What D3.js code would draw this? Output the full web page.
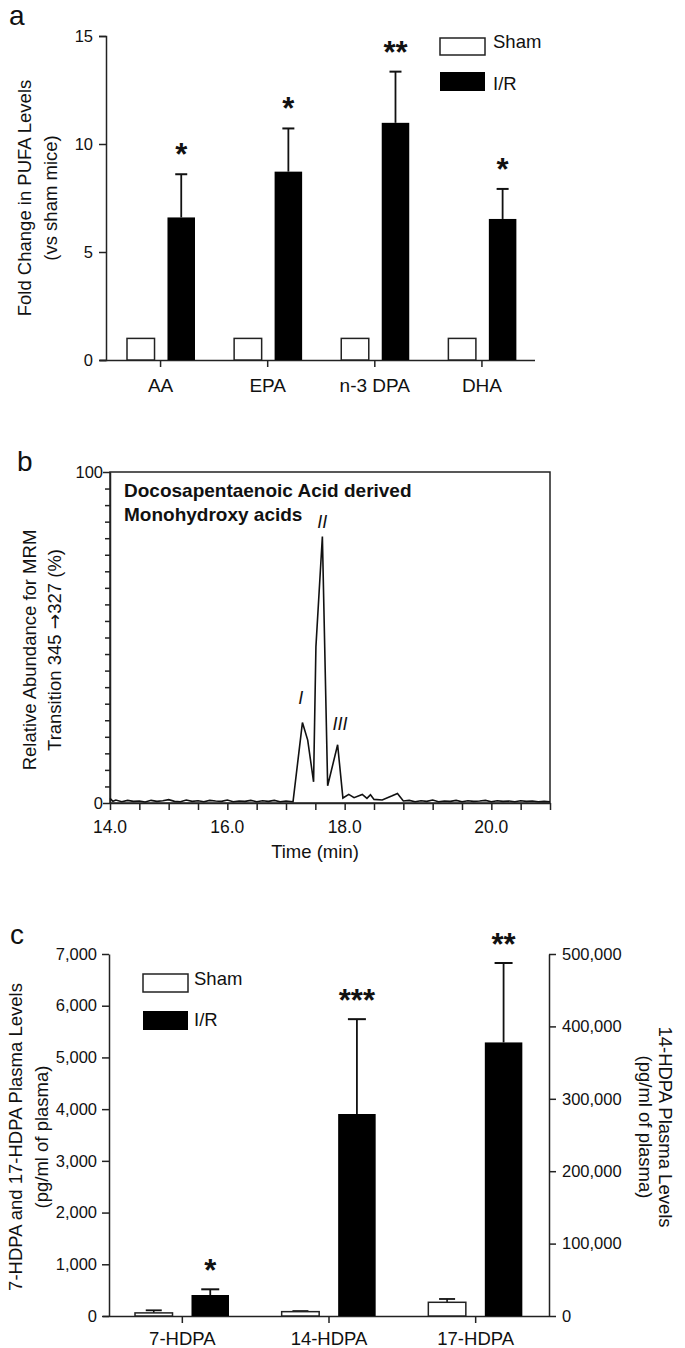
<!DOCTYPE html>
<html>
<head>
<meta charset="utf-8">
<script src="https://cdn.jsdelivr.net/npm/d3@7"></script>
<style>
  body { margin: 0; background: #fff; }
  svg text { font-family: "Liberation Sans", Arial, sans-serif; fill: #111; }
  .domain, .tick line { stroke: #222; stroke-width: 1.5; }
</style>
</head>
<body>
<svg id="fig" width="685" height="1348"></svg>
<script>
// ---- panel a data ----
const pufaCats = ['AA', 'EPA', 'n-3 DPA', 'DHA'];
const pufaSham = [1, 1, 1, 1];
const pufaIR = [6.6, 8.72, 10.98, 6.53];
const pufaIRErr = [2.0, 2.0, 2.37, 1.39];
const pufaStars = ['*', '*', '**', '*'];
const pufaTicks = [0, 5, 10, 15];

// ---- panel b data (chromatogram, min vs %) ----
const traceTime = [14.0, 14.05, 14.1, 14.2, 14.3, 14.4, 14.5, 14.6, 14.7, 14.8, 14.9, 15.0, 15.1, 15.2, 15.3,
  15.4, 15.5, 15.6, 15.7, 15.8, 15.9, 16.0, 16.1, 16.2, 16.3, 16.4, 16.5, 16.6, 16.7, 16.8, 16.9, 17.0, 17.12,
  17.28, 17.37, 17.47, 17.51, 17.62, 17.71, 17.88, 17.97, 18.07, 18.16, 18.3, 18.38, 18.44, 18.5, 18.64, 18.8,
  18.9, 19.0, 19.1, 19.2, 19.3, 19.4, 19.5, 19.6, 19.7, 19.8, 19.9, 20.0, 20.1, 20.2, 20.3, 20.4, 20.5, 20.6,
  20.7, 20.8, 20.9, 21.0, 21.1, 21.2, 21.3, 21.4, 21.5];
const traceValue = [1.4, 0.5, 0.9, 0.4, 0.8, 0.5, 0.6, 0.3, 0.8, 0.5, 0.7, 1.0, 0.5, 0.4, 0.9,
  0.5, 0.7, 0.4, 0.8, 0.6, 0.5, 0.9, 0.4, 0.6, 0.5, 0.8, 0.4, 0.7, 0.5, 0.8, 0.4, 0.6, 0.4,
  24.3, 19.0, 6.4, 47.2, 80.5, 5.2, 17.6, 1.5, 2.6, 1.6, 2.6, 1.4, 2.5, 1.1, 0.9, 2.1,
  2.9, 0.6, 0.8, 0.4, 0.7, 0.5, 0.9, 0.4, 0.6, 0.5, 0.8, 0.4, 0.7, 0.5, 0.6, 0.8,
  0.4, 0.7, 0.5, 0.6, 0.4, 0.7, 0.5, 0.6, 0.4, 0.5, 0.4];
const peakNames = ['I', 'II', 'III'];
const peakTime = [17.25, 17.62, 17.92];
const peakLabelValue = [30, 83, 22];
const timeTicks = d3.range(14, 21.51, 0.5);
const timeLabelAt = [14, 16, 18, 20.5];
const timeLabelText = ['14.0', '16.0', '18.0', '20.0'];

// ---- panel c data (pg/ml) ----
const hdpaCats = ['7-HDPA', '14-HDPA', '17-HDPA'];
const hdpaAxis = ['left', 'right', 'left'];   // 14-HDPA is read on the right axis
const hdpaSham = [60, 6000, 265];
const hdpaShamErr = [50, 800, 64];
const hdpaIR = [406, 279000, 5290];
const hdpaIRErr = [110, 131000, 1536];
const hdpaStars = ['*', '***', '**'];
const leftTicks = [0, 1000, 2000, 3000, 4000, 5000, 6000, 7000];
const rightTicks = [0, 100000, 200000, 300000, 400000, 500000];

const svg = d3.select('#fig');

const panelLetter = (x, y, t) =>
  svg.append('text').attr('x', x).attr('y', y).style('font-size', '28px').text(t);

// ============ panel a ============
const a = { left: 106, right: 535, top: 36, bottom: 360 };
const ay = d3.scaleLinear().domain([0, 15]).range([a.bottom, a.top]);
const ax = d3.scaleBand().domain(pufaCats).range([a.left + 1, a.right + 0.5]);
const axSub = d3.scaleBand().domain(['Sham', 'I/R']).range([20, 88]).paddingInner(0.32);

panelLetter(9, 25, 'a');

const gA = svg.append('g');
gA.append('g').attr('transform', `translate(${a.left},0)`)
  .call(d3.axisLeft(ay).tickValues(pufaTicks).tickSize(7).tickPadding(6))
  .call(g => g.selectAll('text').style('font-size', '16.5px'));
gA.append('g').attr('transform', `translate(0,${a.bottom})`)
  .call(d3.axisBottom(ax).tickSize(7).tickSizeOuter(0).tickPadding(12))
  .call(g => g.select('.domain').attr('d', `M${a.left - 6},0.5H${a.right}`))
  .call(g => g.selectAll('text').style('font-size', '19px'));

pufaCats.forEach((c, i) => {
  const x0 = ax(c);
  gA.append('rect').attr('x', x0 + axSub('Sham')).attr('y', ay(pufaSham[i]))
    .attr('width', axSub.bandwidth()).attr('height', ay(0) - ay(pufaSham[i]))
    .attr('fill', '#fff').attr('stroke', '#222').attr('stroke-width', 1.5);
  const cx = x0 + axSub('I/R') + axSub.bandwidth() / 2;
  const top = ay(pufaIR[i] + pufaIRErr[i]);
  gA.append('line').attr('x1', cx).attr('x2', cx).attr('y1', ay(pufaIR[i])).attr('y2', top)
    .attr('stroke', '#111').attr('stroke-width', 1.8);
  gA.append('line').attr('x1', cx - 6).attr('x2', cx + 6).attr('y1', top).attr('y2', top)
    .attr('stroke', '#111').attr('stroke-width', 2);
  gA.append('rect').attr('x', x0 + axSub('I/R')).attr('y', ay(pufaIR[i]))
    .attr('width', axSub.bandwidth()).attr('height', ay(0) - ay(pufaIR[i]))
    .attr('fill', '#000');
  gA.append('text').attr('x', cx).attr('y', top - 9).attr('text-anchor', 'middle')
    .style('font-size', '31px').style('font-weight', 'bold').text(pufaStars[i]);
});

gA.append('text').attr('transform', 'rotate(-90)').attr('x', -(a.top + a.bottom) / 2).attr('y', 31)
  .attr('text-anchor', 'middle').style('font-size', '18.5px').text('Fold Change in PUFA Levels');
gA.append('text').attr('transform', 'rotate(-90)').attr('x', -(a.top + a.bottom) / 2).attr('y', 57)
  .attr('text-anchor', 'middle').style('font-size', '18.5px').text('(vs sham mice)');

// legend a
const legA = gA.append('g').attr('transform', 'translate(440,38)');
legA.append('rect').attr('width', 45).attr('height', 17).attr('fill', '#fff').attr('stroke', '#222').attr('stroke-width', 1.5);
legA.append('rect').attr('y', 34).attr('width', 45).attr('height', 19).attr('fill', '#000');
legA.append('text').attr('x', 53).attr('y', 10).style('font-size', '18.5px').text('Sham');
legA.append('text').attr('x', 53).attr('y', 52).style('font-size', '18.5px').text('I/R');

// ============ panel b ============
const b = { left: 110, right: 550, top: 472, bottom: 803 };
const bx = d3.scaleLinear().domain([14, 21.5]).range([b.left, b.right]);
const by = d3.scaleLinear().domain([0, 100]).range([b.bottom, b.top]);

panelLetter(17, 471, 'b');

const gB = svg.append('g');
gB.append('rect').attr('x', b.left).attr('y', b.top).attr('width', b.right - b.left).attr('height', b.bottom - b.top)
  .attr('fill', 'none').attr('stroke', '#222').attr('stroke-width', 1.5);
gB.append('g').attr('transform', `translate(${b.left},0)`)
  .call(d3.axisLeft(by).tickValues(d3.range(0, 101, 5)).tickSize(5).tickSizeOuter(0).tickPadding(2)
    .tickFormat(d => (d === 0 || d === 100) ? d : ''))
  .call(g => g.selectAll('text').style('font-size', '16.5px'))
  .call(g => g.selectAll('.tick line').attr('x2', d => (d === 0 || d === 100) ? -7 : -5));
gB.append('g').attr('transform', `translate(0,${b.bottom})`)
  .call(d3.axisBottom(bx).tickValues(timeTicks).tickSize(7).tickSizeOuter(0).tickFormat(''));
gB.selectAll('.tlabel').data(timeLabelAt).join('text').attr('class', 'tlabel')
  .attr('x', d => bx(d)).attr('y', b.bottom + 30).attr('text-anchor', 'middle')
  .style('font-size', '17.5px').text((d, i) => timeLabelText[i]);
gB.append('text').attr('x', 315).attr('y', 858).attr('text-anchor', 'middle').style('font-size', '18.5px').text('Time (min)');

gB.append('path').datum(traceTime.map((t, i) => [t, traceValue[i]]))
  .attr('d', d3.line().x(d => bx(d[0])).y(d => by(d[1])))
  .attr('fill', 'none').attr('stroke', '#111').attr('stroke-width', 1.6);

gB.selectAll('.pk').data(peakNames).join('text').attr('class', 'pk')
  .attr('x', (d, i) => bx(peakTime[i])).attr('y', (d, i) => by(peakLabelValue[i]))
  .attr('text-anchor', 'middle').style('font-size', '18px').style('font-style', 'italic').text(d => d);

gB.append('text').attr('x', 124).attr('y', 497).style('font-size', '19px').style('font-weight', 'bold')
  .text('Docosapentaenoic Acid derived');
gB.append('text').attr('x', 124).attr('y', 521).style('font-size', '19px').style('font-weight', 'bold')
  .text('Monohydroxy acids');

gB.append('text').attr('transform', 'rotate(-90)').attr('x', -650).attr('y', 36)
  .attr('text-anchor', 'middle').style('font-size', '18.5px').text('Relative Abundance for MRM');
const tr = gB.append('text').attr('transform', 'rotate(-90)').attr('x', -650).attr('y', 61)
  .attr('text-anchor', 'middle').style('font-size', '18.5px');
tr.append('tspan').text('Transition 345 ');
tr.append('tspan').style('font-family', '"DejaVu Sans"').text('\u2192');
tr.append('tspan').text('327 (%)');

// ============ panel c ============
const c = { left: 109, right: 549, top: 954, bottom: 1316 };
const cyL = d3.scaleLinear().domain([0, 7000]).range([c.bottom, c.top]);
const cyR = d3.scaleLinear().domain([0, 500000]).range([c.bottom, c.top]);
const cx = d3.scaleBand().domain(hdpaCats).range([c.left, c.right]);
const cxSub = d3.scaleBand().domain(['Sham', 'I/R']).range([26, 120]).paddingInner(0.336);
const fmt = d3.format(',');

panelLetter(10, 944, 'c');

const gC = svg.append('g');
gC.append('g').attr('transform', `translate(${c.left},0)`)
  .call(d3.axisLeft(cyL).tickValues(leftTicks).tickSize(7).tickSizeOuter(0).tickPadding(5).tickFormat(fmt))
  .call(g => g.selectAll('text').style('font-size', '16.5px'));
gC.append('g').attr('transform', `translate(${c.right},0)`)
  .call(d3.axisRight(cyR).tickValues(rightTicks).tickSize(7).tickSizeOuter(0).tickPadding(6).tickFormat(fmt))
  .call(g => g.selectAll('text').style('font-size', '16.5px'));
gC.append('g').attr('transform', `translate(0,${c.bottom})`)
  .call(d3.axisBottom(cx).tickSize(7).tickSizeOuter(0).tickPadding(9))
  .call(g => g.select('.domain').attr('d', `M${c.left - 6},0.5H${c.right}`))
  .call(g => g.selectAll('text').style('font-size', '18.5px'));

hdpaCats.forEach((cat, i) => {
  const ys = hdpaAxis[i] === 'right' ? cyR : cyL;
  const x0 = cx(cat);
  const w = cxSub.bandwidth();
  // sham bar with error
  const sx = x0 + cxSub('Sham') + w / 2;
  const sTop = ys(hdpaSham[i] + hdpaShamErr[i]);
  gC.append('line').attr('x1', sx).attr('x2', sx).attr('y1', ys(hdpaSham[i])).attr('y2', sTop)
    .attr('stroke', '#111').attr('stroke-width', 1.6);
  gC.append('line').attr('x1', sx - 8).attr('x2', sx + 8).attr('y1', sTop).attr('y2', sTop)
    .attr('stroke', '#111').attr('stroke-width', 1.8);
  gC.append('rect').attr('x', x0 + cxSub('Sham')).attr('y', ys(hdpaSham[i]))
    .attr('width', w).attr('height', ys(0) - ys(hdpaSham[i]))
    .attr('fill', '#fff').attr('stroke', '#222').attr('stroke-width', 1.5);
  // I/R bar with error
  const ix = x0 + cxSub('I/R') + w / 2;
  const iTop = ys(hdpaIR[i] + hdpaIRErr[i]);
  gC.append('line').attr('x1', ix).attr('x2', ix).attr('y1', ys(hdpaIR[i])).attr('y2', iTop)
    .attr('stroke', '#111').attr('stroke-width', 1.8);
  gC.append('line').attr('x1', ix - 9).attr('x2', ix + 9).attr('y1', iTop).attr('y2', iTop)
    .attr('stroke', '#111').attr('stroke-width', 2);
  gC.append('rect').attr('x', x0 + cxSub('I/R')).attr('y', ys(hdpaIR[i]))
    .attr('width', w).attr('height', ys(0) - ys(hdpaIR[i])).attr('fill', '#000');
  gC.append('text').attr('x', ix).attr('y', iTop - 8).attr('text-anchor', 'middle')
    .style('font-size', '31px').style('font-weight', 'bold').text(hdpaStars[i]);
});

gC.append('text').attr('transform', 'rotate(-90)').attr('x', -1137).attr('y', 22)
  .attr('text-anchor', 'middle').style('font-size', '18.5px').text('7-HDPA and 17-HDPA Plasma Levels');
gC.append('text').attr('transform', 'rotate(-90)').attr('x', -1137).attr('y', 48)
  .attr('text-anchor', 'middle').style('font-size', '18.5px').text('(pg/ml of plasma)');
gC.append('text').attr('transform', 'rotate(90)').attr('x', 1127).attr('y', -659)
  .attr('text-anchor', 'middle').style('font-size', '18.5px').text('14-HDPA Plasma Levels');
gC.append('text').attr('transform', 'rotate(90)').attr('x', 1127).attr('y', -639)
  .attr('text-anchor', 'middle').style('font-size', '18.5px').text('(pg/ml of plasma)');

// legend c
const legC = gC.append('g').attr('transform', 'translate(143,974)');
legC.append('rect').attr('width', 45).attr('height', 18).attr('fill', '#fff').attr('stroke', '#222').attr('stroke-width', 1.5);
legC.append('rect').attr('y', 37).attr('width', 45).attr('height', 19).attr('fill', '#000');
legC.append('text').attr('x', 51).attr('y', 11).style('font-size', '18.5px').text('Sham');
legC.append('text').attr('x', 51).attr('y', 52).style('font-size', '18.5px').text('I/R');
</script>
</body>
</html>
